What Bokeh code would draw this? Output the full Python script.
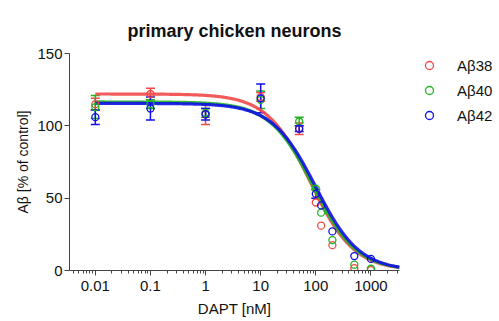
import numpy as np
from bokeh.plotting import figure
from bokeh.models import (ColumnDataSource, Range1d, Whisker, TeeHead, Legend, LegendItem,
                          SingleIntervalTicker, CustomJSTickFormatter)
from bokeh.embed import file_html
from bokeh.resources import INLINE

# ---- data ----
conc = [0.01, 0.1, 1, 10, 50, 100, 125, 200, 500, 1000]
ab38 = [115, 122, 108, 120, 98, 47, 31, 17.5, 1.6, 0.3]
ab40 = [113, 115, 109, 118, 103, 56.5, 40, 21, 4, 1.2]
ab42 = [106, 112, 108, 119, 98, 53, 45, 27, 10, 8]
err38 = [4, 4, 7, 3, 4, 0, 0, 0, 0, 0]
err40 = [8, 3, 3, 6, 3, 0, 0, 0, 0, 0]
err42 = [5, 8, 4, 10, 2, 3, 0, 0, 0, 0]

# four-parameter logistic fit parameters (top, bottom, IC50 [nM], Hill slope)
fit38 = [122, 0, 80, 1.1]
fit40 = [116.5, 0, 90, 1.1]
fit42 = [115.5, 0, 100, 1.1]

labels = ["A\u03b238", "A\u03b240", "A\u03b242"]
colors = ["#F24848", "#1FB51F", "#1010E6"]
x_start, x_end = 0.0034, 3300
font = "Liberation Sans"

p = figure(frame_width=330, frame_height=217, x_axis_type="log",
           x_range=Range1d(x_start, x_end), y_range=Range1d(0, 150),
           output_backend="svg", toolbar_location=None,
           title="primary chicken neurons",
           min_border_left=69, min_border_right=40, min_border_top=53, min_border_bottom=50)
p.outline_line_color = None
p.xgrid.visible = False
p.ygrid.visible = False
p.title.align = "center"
p.title.text_font = font
p.title.text_font_size = "18px"
p.title.text_font_style = "bold"
p.title.text_color = "#111111"
p.title.standoff = 25

for ax in (p.xaxis[0], p.yaxis[0]):
    ax.axis_line_color = "#444444"
    ax.major_tick_line_color = "#444444"
    ax.minor_tick_line_color = "#444444"
    ax.major_tick_out = 5
    ax.major_tick_in = 0
    ax.minor_tick_out = 3
    ax.minor_tick_in = 0
    ax.major_label_text_font = font
    ax.major_label_text_font_size = "15px"
    ax.major_label_text_color = "#111111"
    ax.axis_label_text_font = font
    ax.axis_label_text_font_size = "15px"
    ax.axis_label_text_font_style = "normal"
    ax.axis_label_text_color = "#111111"

p.yaxis.ticker = SingleIntervalTicker(interval=50, num_minor_ticks=0)
p.yaxis.minor_tick_line_color = None
p.yaxis.major_label_standoff = 2
p.yaxis.axis_label = "A\u03b2 [% of control]"
p.yaxis.axis_label_text_font_size = "14px"
p.yaxis.axis_label_standoff = 3
p.xaxis.axis_label = "DAPT [nM]"
p.xaxis.major_label_standoff = 5
p.xaxis.axis_label_standoff = 6
p.xaxis.formatter = CustomJSTickFormatter(code="return String(+tick.toPrecision(6));")

xs_curve = np.logspace(np.log10(min(conc)), np.log10(x_end), 300)

for fit, col in zip([fit38, fit40, fit42], colors):
    top, bot, ic50, hill = fit
    ys_curve = bot + (top - bot) / (1 + (xs_curve / ic50) ** hill)
    p.line(xs_curve, ys_curve, line_color=col, line_width=3.2, line_alpha=0.9)

items = []
for vals, errs, col, lab in zip([ab38, ab40, ab42], [err38, err40, err42], colors, labels):
    src = ColumnDataSource(dict(x=conc, y=vals))
    r = p.scatter("x", "y", source=src, marker="circle", size=7, fill_color=None,
                  line_color=col, line_width=1.3)
    ex = [c for c, e in zip(conc, errs) if e > 0]
    eu = [v + e for v, e in zip(vals, errs) if e > 0]
    el = [v - e for v, e in zip(vals, errs) if e > 0]
    esrc = ColumnDataSource(dict(base=ex, upper=eu, lower=el))
    w = Whisker(base="base", upper="upper", lower="lower", source=esrc, dimension="height",
                line_color=col, line_width=1.5,
                upper_head=TeeHead(size=9, line_color=col, line_width=1.5),
                lower_head=TeeHead(size=9, line_color=col, line_width=1.5))
    p.add_layout(w)
    items.append(LegendItem(label=lab, renderers=[r]))

legend = Legend(items=items, location="top_left", padding=5, margin=2, spacing=5,
                glyph_width=56, glyph_height=20, label_height=20, label_standoff=0,
                border_line_color=None, background_fill_alpha=0,
                label_text_font=font, label_text_font_size="15px",
                label_text_color="#111111")
p.add_layout(legend, "right")

open("out.html", "w").write(file_html(p, INLINE))
